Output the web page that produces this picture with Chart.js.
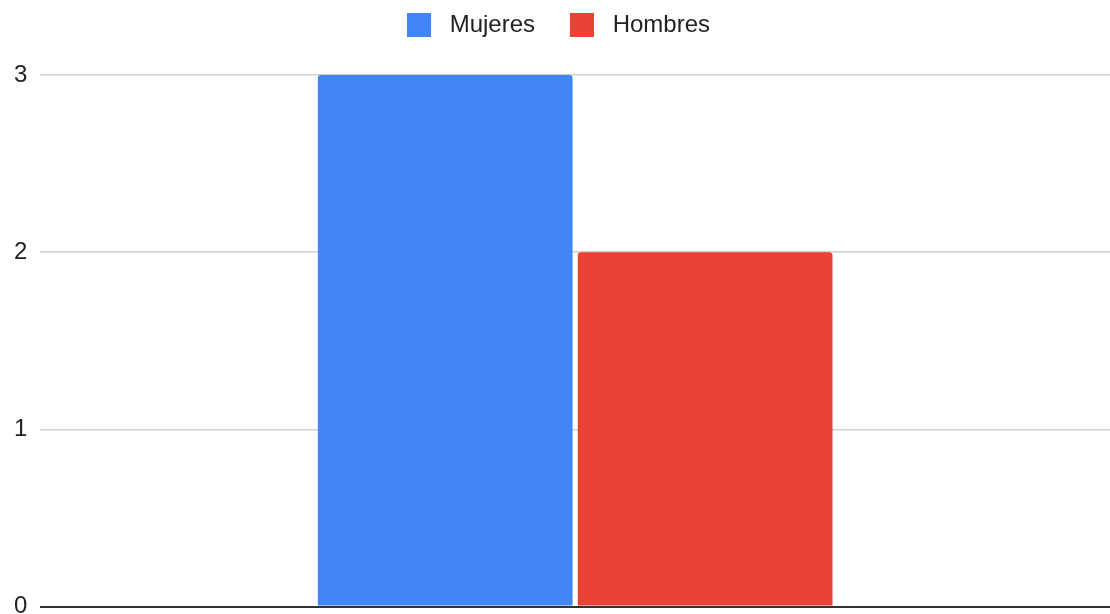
<!DOCTYPE html>
<html>
<head>
<meta charset="utf-8">
<script src="https://cdn.jsdelivr.net/npm/chart.js@4"></script>
<style>
  html, body { margin: 0; padding: 0; background: #fff; overflow: hidden; }
  #wrap { width: 1110px; height: 634px; }
</style>
</head>
<body>
<div id="wrap"><canvas id="chart"></canvas></div>
<script>
"use strict";

const categories = [''];
const mujeres = [3];
const hombres = [2];
const yTicks = [0, 1, 2, 3];

Chart.defaults.font.family = '"Liberation Sans", Arial, sans-serif';
Chart.defaults.color = '#222';

// extra space below the legend
const legendGap = {
  id: 'legendGap',
  beforeInit(chart) {
    const fit = chart.legend.fit;
    chart.legend.fit = function () {
      fit.call(this);
      this.height += 28;
    };
  },
};

new Chart(document.getElementById('chart').getContext('2d'), {
  type: 'bar',
  data: {
    labels: categories,
    datasets: [
      {label: ' Mujeres', data: mujeres, backgroundColor: '#4285F4', borderRadius: 3},
      {label: ' Hombres', data: hombres, backgroundColor: '#EA4335', borderRadius: 3},
    ],
  },
  plugins: [legendGap],
  options: {
    responsive: true,
    maintainAspectRatio: false,
    animation: false,
    categoryPercentage: 0.486,
    barPercentage: 0.98,
    layout: {padding: {left: 1, right: -6, top: -22, bottom: 0}},
    plugins: {
      tooltip: {enabled: false},
      legend: {
        position: 'top',
        labels: {
          boxWidth: 24,
          boxHeight: 24,
          padding: 35,
          font: {size: 24},
          color: '#222',
        },
      },
    },
    scales: {
      x: {display: false},
      y: {
        min: 0,
        max: 3,
        afterBuildTicks: axis => { axis.ticks = yTicks.map(v => ({value: v})); },
        border: {display: false},
        grid: {
          drawTicks: false,
          color: ctx => ctx.tick.value === 0 ? '#333' : '#d0d0d0',
          lineWidth: ctx => ctx.tick.value === 0 ? 2 : 1.5,
        },
        ticks: {padding: 13, font: {size: 24}, color: '#222'},
      },
    },
  },
});
</script>
</body>
</html>
